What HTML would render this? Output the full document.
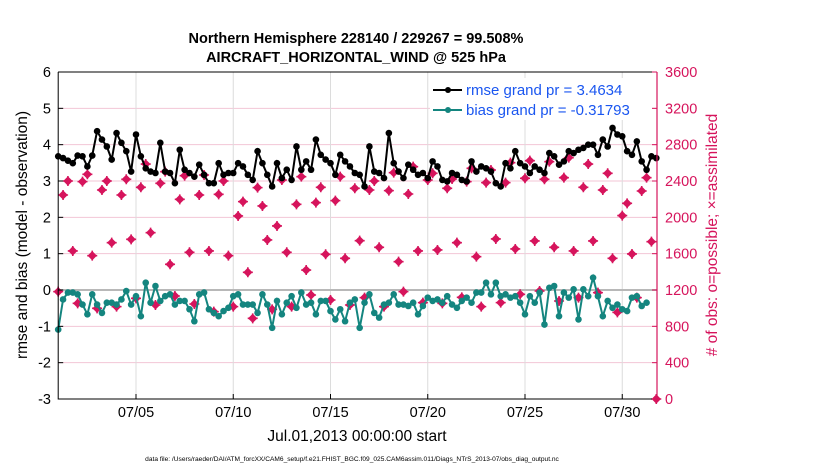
<!DOCTYPE html>
<html><head><meta charset="utf-8"><style>
body{margin:0;background:#fff;width:830px;height:470px;overflow:hidden}
text{font-family:"Liberation Sans",sans-serif}
</style></head><body>
<svg id="chart" width="830" height="470" xmlns="http://www.w3.org/2000/svg">
<g id="grid"></g><g id="marks"></g><g id="axes"></g>
</svg>
<script>
const rmse=[3.68,3.63,3.56,3.49,3.70,3.68,3.40,3.70,4.37,4.14,3.95,3.59,4.32,4.05,3.82,3.26,4.28,3.68,3.35,3.26,3.22,4.05,3.26,3.22,2.94,3.86,3.31,3.22,3.12,3.45,3.17,2.94,2.94,3.49,3.17,3.22,3.22,3.49,3.40,3.17,3.03,3.82,3.49,3.17,2.85,3.49,3.08,3.31,3.03,3.95,3.31,3.54,3.31,4.14,3.72,3.59,3.49,3.17,3.72,3.54,3.40,
3.22,3.17,2.85,3.95,3.26,3.22,3.08,4.32,3.49,3.26,3.08,3.45,3.31,3.17,3.22,3.08,3.54,3.40,3.03,2.99,3.22,3.17,3.03,2.99,3.54,3.26,3.40,3.35,3.26,2.94,2.85,3.49,3.35,3.82,3.49,3.40,3.22,3.40,3.31,3.22,3.77,3.68,3.45,3.54,3.82,3.77,3.86,3.91,4.0,4.0,3.72,4.14,3.95,4.46,4.28,4.23,3.82,3.72,4.09,3.54,3.31,3.68,3.63];
const bias=[-1.09,-0.26,-0.07,-0.07,-0.12,-0.40,-0.67,-0.12,-0.40,-0.63,-0.35,-0.35,-0.40,-0.26,-0.03,-0.40,-0.17,-0.72,0.20,-0.35,0.11,-0.30,-0.17,-0.12,-0.40,-0.30,-0.30,-0.53,-0.86,-0.12,-0.07,-0.53,-0.63,-0.72,-0.58,-0.49,-0.17,-0.12,-0.40,-0.40,-0.40,-0.63,-0.12,-0.40,-1.04,-0.30,-0.67,-0.35,-0.17,-0.49,-0.07,-0.40,-0.35,-0.67,-0.30,-0.30,-0.58,-0.81,-0.53,-0.86,-0.35,
-0.26,-1.04,-0.35,-0.12,-0.63,-0.76,-0.40,-0.35,-0.12,-0.40,-0.40,-0.44,-0.35,-0.67,-0.44,-0.21,-0.30,-0.26,-0.35,-0.17,-0.40,-0.49,-0.30,-0.21,-0.35,-0.07,-0.07,0.20,-0.12,0.20,-0.17,-0.12,-0.21,-0.17,-0.35,-0.67,-0.17,-0.35,-0.07,-0.95,0.06,0.11,-0.72,-0.07,-0.21,0.02,-0.81,0.02,-0.17,0.34,-0.17,-0.72,-0.30,-0.49,-0.40,-0.53,-0.58,-0.21,-0.17,-0.44,-0.35];
const obsCount=[1182,2246,2400,1630,1053,2393,2474,1578,998,2301,2400,1721,1017,2246,2419,1758,1108,2331,2587,1831,1035,2375,2503,1483,1134,2198,2459,1615,1046,2246,2466,1630,962,2253,2400,1578,1017,2015,2173,1395,888,2327,2125,1751,987,1905,2411,1615,1017,2143,2448,1420,1145,2162,2331,1593,1090,2184,2448,1549,1035,2320,
1743,1116,2301,2400,1670,1017,2294,2492,1512,1182,2257,2558,1630,1061,2411,2485,1641,1053,2320,2422,1721,1119,2393,2540,1567,1017,2382,2521,1762,1061,2382,2602,1652,1153,2430,2624,1740,1189,2419,2613,1670,1079,2437,2657,1630,1116,2331,2587,1740,1171,2301,2485,1549,954,2019,2154,1597,1116,2290,2437,1732,0];
const xTickLabels=["07/05","07/10","07/15","07/20","07/25","07/30"];
const xTickDays=[4,9,14,19,24,29];
const yTicks=[-3,-2,-1,0,1,2,3,4,5,6];
const y2Ticks=[0,400,800,1200,1600,2000,2400,2800,3200,3600];

const NS="http://www.w3.org/2000/svg";
const L=58.2,R=657,T=72,B=399;
const xs=d=>L+d*19.45;
const ys=v=>T+(6-v)*(B-T)/9;
const y2=c=>B-c*(B-T)/3600;
function mk(tag,attrs,parent,txt){const e=document.createElementNS(NS,tag);for(const k in attrs)e.setAttribute(k,attrs[k]);if(txt!==undefined)e.textContent=txt;parent.appendChild(e);return e;}
const grid=document.getElementById('grid'),marks=document.getElementById('marks'),axes=document.getElementById('axes');
const RED="#d6145c",TEAL="#14857f";
yTicks.forEach(v=>{if(v>-3&&v<6){const g=mk('line',{x1:L,x2:R,y1:ys(v),y2:ys(v),stroke:'#f3c6d6','stroke-width':1},grid);

}});
xTickDays.forEach(d=>{const g=mk('line',{x1:xs(d),x2:xs(d),y1:T,y2:B,stroke:'#dcdcdc','stroke-width':1},grid);

});
const zl=mk('line',{x1:L,x2:R,y1:ys(0),y2:ys(0),stroke:'#b8b8b8','stroke-width':2},grid);


obsCount.forEach((c,i)=>{const x=xs(i*0.25),y=y2(c);
const g=mk('g',{},marks);


mk('rect',{x:x-3.3,y:y-3.3,width:6.6,height:6.6,rx:1.2,fill:RED,transform:`rotate(45 ${x} ${y})`},g);
mk('path',{d:`M${x-5} ${y}H${x+5}M${x} ${y-5}V${y+5}`,stroke:RED,'stroke-width':1.6},g);});
function series(arr,color,name){
const p=arr.map((v,i)=>`${i?'L':'M'}${xs(i*0.25).toFixed(1)} ${ys(v).toFixed(1)}`).join('');
const ln=mk('path',{d:p,fill:'none',stroke:color,'stroke-width':2},marks);


arr.forEach((v,i)=>{const c=mk('circle',{cx:xs(i*0.25),cy:ys(v),r:3.3,fill:color},marks);

});}
series(rmse,'#000','rmse');
series(bias,TEAL,'bias');
const fr=mk('path',{d:`M${L} ${T}H${R}M${L} ${T}V${B}H${R}`,fill:'none',stroke:'#000','stroke-width':1},axes);


const ra=mk('line',{x1:R,x2:R,y1:T,y2:B,stroke:RED,'stroke-width':1.2},axes);


yTicks.forEach(v=>{mk('line',{x1:L,x2:L+5,y1:ys(v),y2:ys(v),stroke:'#000'},axes);
const t=mk('text',{x:51,y:ys(v)+5,'text-anchor':'end','font-size':14.5},axes,String(v));

});
y2Ticks.forEach(c=>{mk('line',{x1:R-5,x2:R,y1:y2(c),y2:y2(c),stroke:RED},axes);
const t=mk('text',{x:665,y:y2(c)+5,'font-size':14.5,fill:RED},axes,String(c));

});
xTickDays.forEach((d,i)=>{mk('line',{x1:xs(d),x2:xs(d),y1:B-5,y2:B,stroke:'#000'},axes);
const t=mk('text',{x:xs(d),y:417,'text-anchor':'middle','font-size':14.5},axes,xTickLabels[i]);

});
const lg=mk('g',{},axes);


mk('rect',{x:430,y:78,width:222,height:42,fill:'#fff'},lg);
[['#000','rmse grand pr = 3.4634',90],[TEAL,'bias grand pr = -0.31793',110]].forEach(([c,s,y])=>{
const e=mk('g',{},lg);


mk('line',{x1:433,x2:462,y1:y,y2:y,stroke:c,'stroke-width':2},e);
mk('circle',{cx:448,cy:y,r:3,fill:c},e);
mk('text',{x:466,y:y+5,'font-size':15,fill:'#1a56f0'},e,s);});
</script>
<svg style="position:absolute;left:0;top:0" width="830" height="470">
<text x="356" y="43" text-anchor="middle" font-size="14.5" font-weight="bold">Northern Hemisphere 228140 / 229267 = 99.508%</text>
<text x="356" y="62" text-anchor="middle" font-size="14.5" font-weight="bold">AIRCRAFT_HORIZONTAL_WIND @ 525 hPa</text>
<text x="357" y="441" text-anchor="middle" font-size="15.5">Jul.01,2013 00:00:00 start</text>
<text transform="translate(27 235) rotate(-90)" text-anchor="middle" font-size="15.5">rmse and bias (model - observation)</text>
<text transform="translate(717 235) rotate(-90)" text-anchor="middle" font-size="15.5" fill="#d6145c"># of obs: o=possible; ×=assimilated</text>
<text x="352" y="461" text-anchor="middle" font-size="6.6">data file: /Users/raeder/DAI/ATM_forcXX/CAM6_setup/f.e21.FHIST_BGC.f09_025.CAM6assim.011/Diags_NTrS_2013-07/obs_diag_output.nc</text>
</svg>
</body></html>
